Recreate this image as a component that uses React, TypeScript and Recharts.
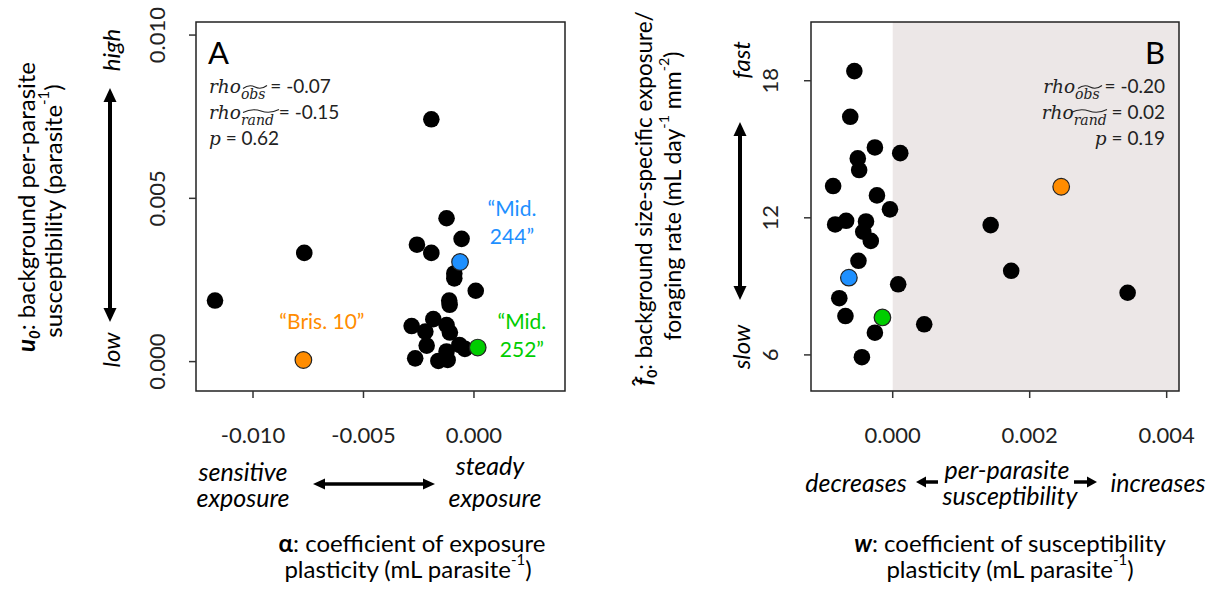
import React from 'react'
import { ScatterChart, Scatter, XAxis, YAxis, ReferenceArea } from 'recharts'

const W = 1218
const H = 599

// ---- panel A: alpha (exposure plasticity) vs u0 (background susceptibility)
const alphaX = [
  -0.00193, -0.01172, -0.00768, -0.00124, -0.00056, -0.00258, -0.00193, -0.00089,
  -0.00089, 0.00008, -0.00112, -0.0011, -0.00184, -0.00282, -0.0022, -0.00124,
  -0.00109, -0.00214, -0.00066, -0.00041, -0.00266, -0.00161, -0.00119, -0.00124,
]
const u0Y = [
  0.00742, 0.00187, 0.00333, 0.00439, 0.00376, 0.00358, 0.00333, 0.0027,
  0.00255, 0.00217, 0.00187, 0.00174, 0.0013, 0.00109, 0.00092, 0.00112,
  0.00089, 0.00049, 0.00051, 0.00039, 0.0001, 0.00002, 0.00005, 0.00031,
]
const alphaTicks = [-0.01, -0.005, 0]
const u0Ticks = [0, 0.005, 0.01]
const alphaDomain = [-0.01258, 0.00412]
const u0Domain = [-0.0009, 0.0104]

// ---- panel B: w (susceptibility plasticity) vs f0 (exposure rate)
const wX = [
  -0.00056, -0.00062, -0.00026, 0.00011, -0.00051, -0.00049, -0.00087, -0.00023,
  -0.00004, -0.00068, -0.00084, -0.00039, -0.00043, -0.00032, 0.00143, -0.0005,
  0.00173, 0.00343, 0.00008, -0.00078, -0.00069, 0.00046, -0.00026, -0.00045,
]
const f0Y = [
  18.42, 16.42, 15.08, 14.83, 14.6, 14.09, 13.39, 12.98,
  12.37, 11.87, 11.71, 11.84, 11.39, 10.99, 11.68, 10.12,
  9.68, 8.72, 9.09, 8.48, 7.7, 7.34, 6.97, 5.9,
]
const wTicks = [0, 0.002, 0.004]
const f0Ticks = [6, 12, 18]
const wDomain = [-0.001193, 0.00418]
const f0Domain = [4.42, 20.57]

// ---- highlighted clones (same order in both panels)
const cloneColors = ['#FF8C00', '#1E90FF', '#00CD00']
const cloneAlpha = [-0.00772, -0.00063, 0.00017]
const cloneU0 = [0.00005, 0.00305, 0.00043]
const cloneW = [0.00246, -0.00064, -0.00015]
const cloneF0 = [13.36, 9.38, 7.64]
const cloneLines = [['\u201CBris. 10\u201D'], ['\u201CMid.', '244\u201D'], ['\u201CMid.', '252\u201D']]
// label anchors in panel A data units
const labelAlpha = [-0.00688, 0.00172, 0.00217]
const labelU0 = [0.00121, 0.00424, 0.00077]

const FONT = 'Lato, "Open Sans", sans-serif'
const MATH = '"DejaVu Serif", serif'

const zip = (xs: number[], ys: number[]) => xs.map((x, i) => ({ x, y: ys[i] }))

const dot = (fill: string, stroke?: string) => (p: any) => (
  <circle cx={p.cx} cy={p.cy} r={8.3} fill={fill} stroke={stroke ?? 'none'} strokeWidth={1.2} />
)

const yTick = (dx: number, fmt: (v: number) => string) => (p: any) => {
  const cx = p.x + dx
  return (
    <text x={cx} y={p.y} transform={`rotate(-90, ${cx}, ${p.y})`} textAnchor="middle"
      dominantBaseline="central" fontFamily={FONT} fontSize={22} fill="#222">
      {fmt(p.payload.value)}
    </text>
  )
}

const xTick = (fmt: (v: number) => string) => (p: any) => (
  <text x={p.x} y={p.y + 36} textAnchor="middle" dominantBaseline="central"
    fontFamily={FONT} fontSize={22} fill="#222">
    {fmt(p.payload.value)}
  </text>
)

const cloneLabel = (p: any) => {
  const d = p.payload
  const n = d.lines.length
  return (
    <text x={p.cx} y={p.cy} textAnchor="middle" fontFamily={FONT} fontSize={21} fill={d.color}>
      {d.lines.map((t: string, i: number) => (
        <tspan key={i} x={p.cx} dy={i === 0 ? (n === 1 ? 7 : -7) : 28}>{t}</tspan>
      ))}
    </text>
  )
}

interface PanelProps {
  left: number
  right: number
  xs: number[]
  ys: number[]
  cx: number[]
  cy: number[]
  xDomain: number[]
  yDomain: number[]
  xTicks: number[]
  yTicks: number[]
  xFmt: (v: number) => string
  yFmt: (v: number) => string
  yDx: number
  shadeFrom?: number
  labels?: any[]
}

function Panel(props: PanelProps) {
  const { xDomain, yDomain } = props
  return (
    <div style={{ position: 'absolute', left: 0, top: 0 }}>
      <ScatterChart width={W} height={H}
        margin={{ top: 22, right: props.right, bottom: 168, left: props.left - 60 }}>
        <XAxis type="number" dataKey="x" domain={xDomain} ticks={props.xTicks} allowDataOverflow
          axisLine={false} tickSize={7} tickMargin={0} height={40}
          tickLine={{ stroke: '#333', strokeWidth: 1.5 }} tick={xTick(props.xFmt)} />
        <YAxis type="number" dataKey="y" domain={yDomain} ticks={props.yTicks} allowDataOverflow
          axisLine={false} tickSize={7} tickMargin={0} width={60}
          tickLine={{ stroke: '#333', strokeWidth: 1.5 }} tick={yTick(props.yDx, props.yFmt)} />
        {props.shadeFrom !== undefined && (
          <ReferenceArea x1={props.shadeFrom} x2={xDomain[1]} y1={yDomain[0]} y2={yDomain[1]}
            fill="#ECE7E7" fillOpacity={1} stroke="none" />
        )}
        <Scatter data={zip(props.xs, props.ys)} shape={dot('#000')} isAnimationActive={false} />
        {cloneColors.map((c, i) => (
          <Scatter key={c} data={[{ x: props.cx[i], y: props.cy[i] }]} shape={dot(c, '#222')}
            isAnimationActive={false} />
        ))}
        {props.labels && (
          <Scatter data={props.labels} shape={cloneLabel} isAnimationActive={false} />
        )}
        <ReferenceArea x1={xDomain[0]} x2={xDomain[1]} y1={yDomain[0]} y2={yDomain[1]}
          fill="none" stroke="#222" strokeWidth={1.5} />
      </ScatterChart>
    </div>
  )
}

function Arrow({ x1, y1, x2, y2, both = true, hl = 14, hw = 13, sw = 4 }: any) {
  const len = Math.hypot(x2 - x1, y2 - y1)
  const ux = (x2 - x1) / len
  const uy = (y2 - y1) / len
  const head = (tx: number, ty: number, dx: number, dy: number) => {
    const bx = tx - dx * hl
    const by = ty - dy * hl
    return `${tx},${ty} ${bx - dy * hw / 2},${by + dx * hw / 2} ${bx + dy * hw / 2},${by - dx * hw / 2}`
  }
  const sx = both ? x1 + ux * hl * 0.8 : x1
  const sy = both ? y1 + uy * hl * 0.8 : y1
  return (
    <g fill="#000">
      <line x1={sx} y1={sy} x2={x2 - ux * hl * 0.8} y2={y2 - uy * hl * 0.8} stroke="#000" strokeWidth={sw} />
      <polygon points={head(x2, y2, ux, uy)} />
      {both && <polygon points={head(x1, y1, -ux, -uy)} />}
    </g>
  )
}

const Tilde = ({ x, y, w }: any) => (
  <path d={`M${x},${y + 1.5} Q${x + w / 4},${y - 3} ${x + w / 2},${y} T${x + w},${y - 1.5}`}
    fill="none" stroke="#222" strokeWidth={1.1} />
)

const Rot = ({ x, y, children, italic = false, size = 24 }: any) => (
  <text transform={`translate(${x},${y}) rotate(-90)`} textAnchor="middle" dominantBaseline="central"
    fontFamily={FONT} fontSize={size} fontStyle={italic ? 'italic' : 'normal'} fill="#000">
    {children}
  </text>
)

const T = ({ x, y, children, italic = false, size = 24, anchor = 'middle' }: any) => (
  <text x={x} y={y} textAnchor={anchor} dominantBaseline="central" fontFamily={FONT}
    fontSize={size} fontStyle={italic ? 'italic' : 'normal'} fill="#000">
    {children}
  </text>
)

const Sup = ({ children }: any) => (
  <tspan baselineShift="super" fontSize="0.62em">{children}</tspan>
)

const Sub = ({ children, bold = false, italic = false }: any) => (
  <tspan baselineShift="sub" fontSize="0.62em" fontWeight={bold ? 'bold' : 'normal'}
    fontStyle={italic ? 'italic' : 'normal'}>{children}</tspan>
)

function Rho({ x, y, sub, val, anchor = 'start' }: any) {
  return (
    <text x={x} y={y} textAnchor={anchor} fontFamily={MATH} fontStyle="italic" fontSize={18.5} fill="#222">
      rho
      <tspan baselineShift="-6" fontSize={14}>{sub}</tspan>
      <tspan fontFamily={FONT} fontStyle="normal" fontSize={19}>{` = ${val}`}</tspan>
    </text>
  )
}

function PVal({ x, y, val, anchor = 'start' }: any) {
  return (
    <text x={x} y={y} textAnchor={anchor} fontFamily={MATH} fontStyle="italic" fontSize={18.5} fill="#222">
      p
      <tspan fontFamily={FONT} fontStyle="normal" fontSize={19}>{` = ${val}`}</tspan>
    </text>
  )
}

function Overlay() {
  return (
    <svg width={W} height={H} style={{ position: 'absolute', left: 0, top: 0, pointerEvents: 'none' }}>
      {/* panel A annotations */}
      <text x={208} y={64} fontFamily={FONT} fontSize={31} fill="#000">A</text>
      <Rho x={209} y={93} sub="obs" val="-0.07" />
      <Tilde x={243} y={87} w={24} />
      <Rho x={209} y={119} sub="rand" val="-0.15" />
      <Tilde x={243} y={111} w={36} />
      <PVal x={209} y={145} val="0.62" />

      <Arrow x1={110} y1={88} x2={110} y2={322} />
      <Rot x={110} y={50} italic size={24}>high</Rot>
      <Rot x={110} y={350} italic size={24}>low</Rot>
      <Rot x={25} y={207}>
        <tspan fontWeight="bold" fontStyle="italic">u</tspan>
        <Sub bold italic>0</Sub>
        <tspan>: background per-parasite</tspan>
      </Rot>
      <Rot x={52} y={211}>
        susceptibility (parasite<Sup>-1</Sup>)
      </Rot>

      <T x={243} y={471} italic size={25}>sensitive</T>
      <T x={243} y={497} italic size={25}>exposure</T>
      <T x={490} y={465} italic size={25}>steady</T>
      <T x={495} y={497} italic size={25}>exposure</T>
      <Arrow x1={313} y1={484} x2={435} y2={484} hl={12} hw={11} sw={3.5} />
      <T x={412} y={542}>
        <tspan fontWeight="bold">α</tspan>: coefficient of exposure
      </T>
      <T x={408} y={568}>
        plasticity (mL parasite<Sup>-1</Sup>)
      </T>

      {/* panel B annotations */}
      <text x={1165} y={64} textAnchor="end" fontFamily={FONT} fontSize={31} fill="#000">B</text>
      <Rho x={1165} y={93} sub="obs" val="-0.20" anchor="end" />
      <Tilde x={1078} y={87} w={24} />
      <Rho x={1165} y={119} sub="rand" val="0.02" anchor="end" />
      <Tilde x={1071} y={111} w={36} />
      <PVal x={1165} y={145} val="0.19" anchor="end" />

      <Arrow x1={740} y1={122} x2={740} y2={300} />
      <Rot x={740} y={60} italic size={24}>fast</Rot>
      <Rot x={740} y={347} italic size={24}>slow</Rot>
      <Rot x={643} y={199} size={22.5}>
        <tspan fontWeight="bold" fontStyle="italic">f</tspan>
        <tspan fontWeight="bold" dx={-9} dy={-4}>{'\u02C6'}</tspan>
        <tspan dy={4} baselineShift="sub" fontSize="0.62em" fontWeight="bold">0</tspan>
        <tspan>: background size-specific exposure/</tspan>
      </Rot>
      <Rot x={672} y={196} size={23}>
        foraging  rate (mL day<Sup>-1</Sup> mm<Sup>-2</Sup>)
      </Rot>

      <T x={856} y={482} italic size={25}>decreases</T>
      <Arrow x1={938} y1={482} x2={916} y2={482} both={false} hl={10} hw={11} sw={3.5} />
      <T x={1007} y={469} italic size={25}>per-parasite</T>
      <T x={1010} y={495} italic size={25}>susceptibility</T>
      <Arrow x1={1074} y1={482} x2={1097} y2={482} both={false} hl={10} hw={11} sw={3.5} />
      <T x={1158} y={482} italic size={25}>increases</T>
      <T x={1010} y={542}>
        <tspan fontWeight="bold" fontStyle="italic">w</tspan>: coefficient of susceptibility
      </T>
      <T x={1010} y={568}>
        plasticity (mL parasite<Sup>-1</Sup>)
      </T>
    </svg>
  )
}

export default function App() {
  const labelsA = labelAlpha.map((x, i) => ({
    x, y: labelU0[i], lines: cloneLines[i], color: cloneColors[i],
  }))
  return (
    <div style={{ position: 'absolute', left: 0, top: 0, width: W, height: H, background: '#fff', overflow: 'hidden' }}>
      <Panel left={196} right={W - 565} xs={alphaX} ys={u0Y} cx={cloneAlpha} cy={cloneU0}
        xDomain={alphaDomain} yDomain={u0Domain} xTicks={alphaTicks} yTicks={u0Ticks}
        xFmt={(v) => v.toFixed(3)} yFmt={(v) => v.toFixed(3)} yDx={-32} labels={labelsA} />
      <Panel left={811} right={W - 1179} xs={wX} ys={f0Y} cx={cloneW} cy={cloneF0}
        xDomain={wDomain} yDomain={f0Domain} xTicks={wTicks} yTicks={f0Ticks}
        xFmt={(v) => v.toFixed(3)} yFmt={(v) => String(v)} yDx={-34} shadeFrom={0} />
      <Overlay />
    </div>
  )
}
